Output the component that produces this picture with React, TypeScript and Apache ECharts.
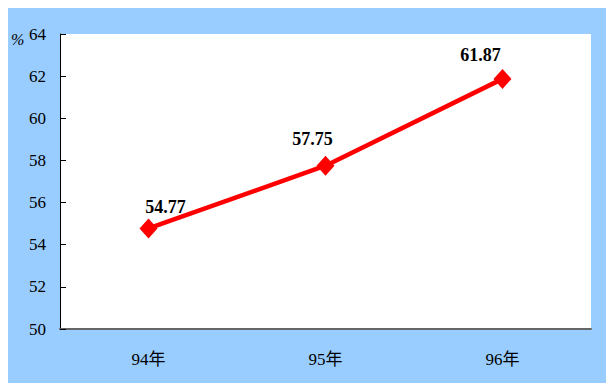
import React, { useEffect, useRef } from "react";
import * as echarts from "echarts";

const categories = ["94年", "95年", "96年"];
const values = [54.77, 57.75, 61.87];
const labelOffsets = [[17, 2], [-13, -3], [-22, 0]];

export default function App() {
  const ref = useRef<HTMLDivElement>(null);
  useEffect(() => {
    const chart = echarts.init(ref.current!, null, { renderer: "svg" });
    const serif = "Liberation Serif, Noto Sans CJK SC, serif";
    chart.setOption({
      animation: false,
      backgroundColor: "#99CCFF",
      grid: {
        left: 52,
        top: 26,
        right: 23,
        bottom: 54,
        show: true,
        backgroundColor: "#ffffff",
        borderWidth: 0,
      },
      graphic: [
        {
          type: "text",
          left: 3,
          top: 23,
          style: { text: "%", font: `italic 16px ${serif}`, fill: "#000" },
        },
      ],
      xAxis: {
        type: "category",
        data: categories,
        boundaryGap: true,
        axisLine: { lineStyle: { color: "#666666", width: 2 } },
        axisTick: { inside: true, length: 6, lineStyle: { color: "#000", width: 1 } },
        axisLabel: { margin: 22, fontSize: 17, fontFamily: serif, color: "#000" },
        splitLine: { show: false },
      },
      yAxis: {
        type: "value",
        min: 50,
        max: 64,
        interval: 2,
        axisLine: { show: true, lineStyle: { color: "#000", width: 1 } },
        axisTick: { show: true, inside: true, length: 6, lineStyle: { color: "#000" } },
        axisLabel: { margin: 14, fontSize: 17, fontFamily: serif, color: "#000" },
        splitLine: { show: false },
      },
      series: [
        {
          type: "line",
          data: values.map((v, i) => ({
            value: v,
            label: { offset: labelOffsets[i] },
          })),
          symbol: "diamond",
          symbolSize: [18, 20],
          lineStyle: { color: "#FF0000", width: 4.5 },
          itemStyle: { color: "#FF0000" },
          label: {
            show: true,
            position: "top",
            fontSize: 18,
            fontWeight: "bold",
            fontFamily: serif,
            color: "#000",
            formatter: (p: any) => p.value.toFixed(2),
          },
        },
      ],
    });
    return () => chart.dispose();
  }, []);
  return <div ref={ref} style={{ width: 606, height: 375 }} />;
}
